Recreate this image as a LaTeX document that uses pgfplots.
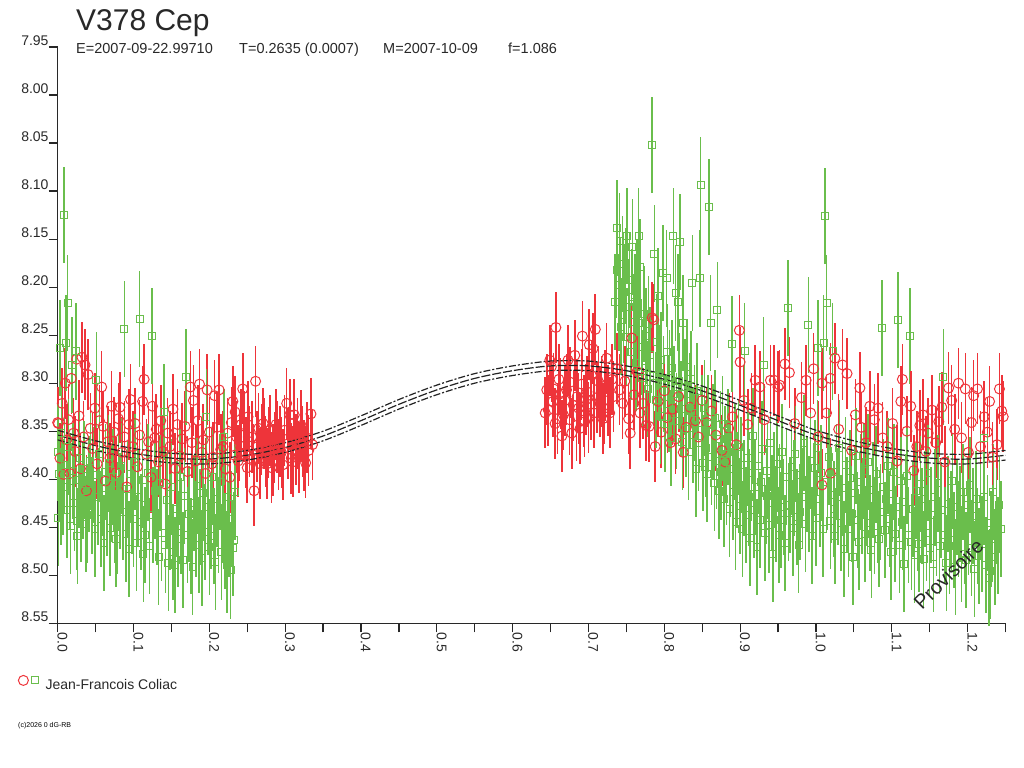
\documentclass[border=0pt]{standalone}
\usepackage{pgfplots}
\pgfplotsset{compat=1.18}
\usepackage{fontspec}
\setmainfont{Liberation Sans}
\definecolor{cred}{RGB}{238,52,58}
\definecolor{cgreen}{RGB}{106,190,76}
\definecolor{ccurve}{RGB}{35,35,35}
\definecolor{caxis}{RGB}{40,40,40}
\begin{document}
\begin{tikzpicture}
\path[use as bounding box] (0,0) rectangle (1024bp,768bp);
\begin{axis}[
  at={(57.7bp,144.7bp)}, anchor=south west,
  scale only axis, width=947.8bp, height=576.3bp,
  xmin=0, xmax=1.25, ymin=7.95, ymax=8.55, y dir=reverse,
  axis x line*=bottom, axis y line*=left,
  axis line style={line width=1.2bp, caxis, -},
  clip=false,
  /pgf/number format/assume math mode=true,
  xtick={0,0.1,0.2,0.3,0.4,0.5,0.6,0.7,0.8,0.9,1.0,1.1,1.2},
  minor xtick={0.05,0.15,0.25,0.35,0.45,0.55,0.65,0.75,0.85,0.95,1.05,1.15,1.25},
  ytick={7.95,8,8.05,8.1,8.15,8.2,8.25,8.3,8.35,8.4,8.45,8.5,8.55},
  tick align=outside,
  major tick length=9bp, minor tick length=9bp,
  tick style={caxis, line width=1.2bp},
  xticklabel={\pgfmathprintnumber[fixed,fixed zerofill,precision=1]{\tick}},
  yticklabel={\pgfmathprintnumber[fixed,fixed zerofill,precision=2]{\tick}},
  xticklabel style={rotate=-90, anchor=base west, inner sep=0pt, font=\fontsize{14bp}{14bp}\selectfont, text=caxis},
  yticklabel style={anchor=south east, inner sep=0pt, yshift=1bp, font=\fontsize{14bp}{14bp}\selectfont, text=caxis},
  legend style={at={(axis description cs:-0.0422,-0.1031)}, anchor=west, draw=none, fill=none, inner sep=0pt, column sep=7bp, font=\fontsize{14bp}{14bp}\selectfont, text=caxis, nodes={inner sep=0pt}},
]
% red circles (first layer)
\addplot[forget plot, only marks, mark=o, mark size=5bp, cred, mark options={line width=1bp},
  error bars/.cd, y dir=both, y fixed=0.037, error mark=none, error bar style={line width=1.6bp, cred}]
table {
0.000 8.341
0.001 8.342
0.003 8.378
0.006 8.321
0.008 8.395
0.010 8.300
0.012 8.359
0.014 8.338
0.016 8.394
0.018 8.295
0.021 8.352
0.023 8.371
0.025 8.275
0.028 8.334
0.030 8.389
0.032 8.273
0.034 8.356
0.036 8.281
0.038 8.412
0.040 8.291
0.043 8.347
0.046 8.368
0.049 8.326
0.052 8.384
0.055 8.339
0.058 8.304
0.060 8.345
0.063 8.402
0.066 8.361
0.069 8.378
0.071 8.324
0.074 8.351
0.077 8.393
0.080 8.337
0.082 8.325
0.085 8.372
0.088 8.356
0.091 8.408
0.094 8.343
0.096 8.317
0.099 8.366
0.102 8.342
0.105 8.387
0.108 8.354
0.112 8.319
0.114 8.296
0.117 8.374
0.120 8.361
0.123 8.398
0.125 8.324
0.128 8.357
0.130 8.348
0.133 8.382
0.136 8.339
0.139 8.371
0.142 8.405
0.145 8.352
0.148 8.366
0.152 8.327
0.155 8.389
0.158 8.343
0.161 8.376
0.164 8.358
0.168 8.345
0.171 8.392
0.175 8.304
0.177 8.362
0.179 8.318
0.182 8.381
0.185 8.339
0.187 8.301
0.190 8.372
0.192 8.359
0.195 8.394
0.197 8.307
0.200 8.351
0.203 8.384
0.205 8.377
0.207 8.313
0.210 8.346
0.213 8.307
0.215 8.369
0.218 8.366
0.221 8.389
0.224 8.352
0.227 8.398
0.229 8.341
0.231 8.319
0.233 8.375
0.234 8.330
0.236 8.356
0.238 8.381
0.240 8.365
0.242 8.343
0.244 8.306
0.246 8.345
0.248 8.372
0.250 8.388
0.251 8.335
0.253 8.361
0.256 8.356
0.258 8.379
0.259 8.412
0.261 8.298
0.263 8.366
0.265 8.347
0.267 8.384
0.269 8.359
0.271 8.342
0.272 8.352
0.274 8.371
0.276 8.384
0.278 8.362
0.280 8.349
0.282 8.388
0.284 8.380
0.286 8.367
0.288 8.343
0.289 8.356
0.291 8.374
0.293 8.361
0.295 8.372
0.297 8.385
0.299 8.349
0.302 8.321
0.304 8.363
0.306 8.333
0.308 8.378
0.310 8.382
0.312 8.333
0.314 8.369
0.316 8.352
0.318 8.377
0.321 8.344
0.323 8.361
0.325 8.375
0.327 8.383
0.329 8.357
0.331 8.370
0.334 8.332
0.336 8.364
0.643 8.331
0.645 8.307
0.647 8.328
0.649 8.276
0.651 8.283
0.653 8.319
0.654 8.306
0.656 8.342
0.657 8.242
0.659 8.337
0.661 8.296
0.663 8.311
0.665 8.355
0.667 8.333
0.669 8.318
0.671 8.307
0.673 8.276
0.675 8.338
0.676 8.299
0.678 8.352
0.680 8.323
0.682 8.271
0.684 8.344
0.685 8.314
0.687 8.326
0.689 8.347
0.691 8.301
0.692 8.251
0.694 8.329
0.695 8.340
0.697 8.317
0.698 8.309
0.700 8.336
0.701 8.260
0.703 8.322
0.704 8.292
0.706 8.264
0.707 8.331
0.709 8.244
0.711 8.315
0.713 8.298
0.715 8.319
0.717 8.309
0.719 8.337
0.721 8.326
0.722 8.302
0.724 8.274
0.726 8.318
0.728 8.331
0.731 8.296
0.733 8.314
0.738 8.285
0.741 8.307
0.745 8.321
0.748 8.298
0.753 8.337
0.755 8.352
0.760 8.312
0.764 8.288
0.768 8.331
0.772 8.321
0.776 8.344
0.780 8.345
0.788 8.366
0.792 8.319
0.796 8.351
0.800 8.308
0.804 8.336
0.808 8.362
0.811 8.327
0.815 8.358
0.819 8.314
0.825 8.372
0.829 8.346
0.834 8.325
0.841 8.339
0.845 8.356
0.850 8.318
0.856 8.341
0.862 8.329
0.868 8.354
0.876 8.370
0.880 8.382
0.885 8.347
0.890 8.335
0.895 8.364
0.905 8.318
0.910 8.343
0.915 8.326
0.932 8.338
0.972 8.342
0.993 8.331
1.003 8.356
1.008 8.406
1.014 8.331
1.019 8.394
1.030 8.348
1.047 8.370
1.052 8.333
1.066 8.362
1.077 8.338
1.088 8.357
1.094 8.366
1.107 8.381
1.120 8.350
1.129 8.391
1.133 8.366
1.137 8.344
1.145 8.371
1.148 8.352
1.158 8.362
1.162 8.340
1.170 8.382
1.183 8.348
1.192 8.357
1.201 8.372
1.205 8.341
1.217 8.366
1.226 8.351
1.233 8.377
1.239 8.364
};
% green squares
\addplot[forget plot, only marks, mark=square, mark size=3.5bp, cgreen, mark options={line width=1bp},
  error bars/.cd, y dir=both, y fixed=0.05, error mark=none, error bar style={line width=1.6bp, cgreen}]
table {
0.000 8.372
0.001 8.440
0.002 8.395
0.003 8.263
0.004 8.418
0.005 8.352
0.007 8.408
0.008 8.125
0.009 8.385
0.011 8.258
0.012 8.432
0.013 8.217
0.014 8.366
0.016 8.402
0.017 8.449
0.019 8.281
0.020 8.391
0.022 8.425
0.024 8.267
0.025 8.444
0.026 8.459
0.028 8.401
0.029 8.378
0.031 8.436
0.033 8.412
0.035 8.389
0.037 8.447
0.039 8.437
0.041 8.405
0.043 8.381
0.045 8.428
0.047 8.396
0.049 8.452
0.051 8.297
0.053 8.418
0.055 8.374
0.057 8.441
0.059 8.409
0.061 8.466
0.063 8.392
0.065 8.430
0.067 8.383
0.069 8.451
0.071 8.415
0.073 8.398
0.075 8.437
0.077 8.462
0.078 8.449
0.080 8.404
0.082 8.423
0.084 8.386
0.086 8.434
0.088 8.244
0.090 8.457
0.092 8.410
0.094 8.473
0.096 8.395
0.098 8.428
0.100 8.441
0.102 8.382
0.104 8.466
0.106 8.419
0.108 8.233
0.110 8.445
0.112 8.401
0.113 8.478
0.115 8.458
0.117 8.427
0.119 8.393
0.121 8.470
0.124 8.251
0.126 8.437
0.128 8.412
0.131 8.439
0.133 8.481
0.135 8.404
0.137 8.456
0.140 8.330
0.142 8.468
0.144 8.422
0.146 8.487
0.148 8.445
0.150 8.408
0.152 8.476
0.155 8.489
0.157 8.431
0.159 8.462
0.161 8.398
0.163 8.449
0.165 8.484
0.167 8.417
0.169 8.294
0.171 8.458
0.173 8.436
0.176 8.470
0.178 8.491
0.180 8.425
0.182 8.452
0.184 8.407
0.186 8.468
0.188 8.439
0.190 8.482
0.192 8.414
0.194 8.455
0.196 8.335
0.198 8.429
0.200 8.471
0.202 8.443
0.204 8.398
0.206 8.459
0.208 8.486
0.210 8.421
0.212 8.448
0.214 8.403
0.216 8.476
0.218 8.437
0.219 8.356
0.221 8.464
0.223 8.489
0.224 8.418
0.226 8.452
0.228 8.495
0.229 8.441
0.231 8.472
0.232 8.463
0.234 8.413
0.735 8.215
0.737 8.182
0.738 8.138
0.740 8.216
0.741 8.152
0.742 8.198
0.743 8.241
0.745 8.176
0.746 8.229
0.747 8.205
0.749 8.188
0.750 8.252
0.751 8.147
0.753 8.221
0.754 8.193
0.756 8.268
0.757 8.210
0.758 8.158
0.760 8.236
0.761 8.215
0.763 8.279
0.764 8.201
0.766 8.147
0.767 8.237
0.768 8.179
0.770 8.262
0.771 8.295
0.773 8.228
0.775 8.284
0.776 8.251
0.778 8.306
0.779 8.238
0.781 8.271
0.784 8.052
0.786 8.293
0.787 8.165
0.789 8.318
0.790 8.257
0.792 8.209
0.793 8.289
0.795 8.334
0.796 8.276
0.798 8.185
0.799 8.301
0.801 8.342
0.803 8.191
0.804 8.268
0.806 8.322
0.807 8.295
0.809 8.357
0.810 8.284
0.812 8.147
0.813 8.311
0.815 8.206
0.816 8.339
0.818 8.216
0.819 8.298
0.821 8.153
0.822 8.327
0.824 8.361
0.825 8.237
0.827 8.304
0.829 8.348
0.830 8.283
0.832 8.372
0.834 8.319
0.835 8.296
0.837 8.196
0.838 8.354
0.840 8.331
0.842 8.389
0.843 8.308
0.845 8.362
0.847 8.191
0.848 8.094
0.850 8.341
0.851 8.383
0.853 8.326
0.855 8.368
0.856 8.395
0.858 8.342
0.859 8.117
0.861 8.237
0.862 8.377
0.864 8.351
0.866 8.404
0.867 8.336
0.869 8.381
0.870 8.224
0.872 8.412
0.874 8.358
0.875 8.392
0.877 8.343
0.879 8.421
0.880 8.374
0.882 8.398
0.884 8.356
0.886 8.431
0.887 8.389
0.889 8.259
0.891 8.413
0.893 8.372
0.894 8.445
0.896 8.401
0.898 8.366
0.900 8.428
0.901 8.385
0.903 8.452
0.905 8.409
0.906 8.267
0.908 8.437
0.910 8.378
0.912 8.419
0.913 8.461
0.915 8.394
0.917 8.355
0.918 8.432
0.920 8.408
0.922 8.471
0.924 8.386
0.926 8.442
0.928 8.403
0.929 8.369
0.931 8.281
0.933 8.456
0.935 8.417
0.936 8.391
0.938 8.448
0.940 8.362
0.942 8.425
0.943 8.478
0.945 8.401
0.947 8.436
0.949 8.384
0.951 8.458
0.952 8.413
0.954 8.442
0.955 8.372
0.957 8.429
0.959 8.466
0.961 8.398
0.963 8.222
0.964 8.435
0.966 8.427
0.968 8.387
0.970 8.451
0.971 8.409
0.973 8.374
0.975 8.439
0.977 8.468
0.979 8.434
0.980 8.396
0.982 8.418
0.984 8.362
0.986 8.447
0.988 8.405
0.990 8.239
0.991 8.426
0.993 8.381
0.995 8.459
0.997 8.412
0.999 8.388
1.000 8.440
1.002 8.367
1.003 8.263
1.005 8.421
1.007 8.394
1.009 8.452
1.010 8.258
1.012 8.126
1.014 8.217
1.015 8.403
1.017 8.377
1.019 8.443
1.020 8.416
1.022 8.267
1.024 8.431
1.025 8.459
1.027 8.392
1.029 8.418
1.031 8.367
1.033 8.446
1.035 8.409
1.037 8.473
1.039 8.385
1.041 8.427
1.043 8.452
1.045 8.399
1.047 8.436
1.049 8.481
1.051 8.414
1.053 8.376
1.055 8.442
1.057 8.465
1.059 8.403
1.061 8.428
1.063 8.391
1.065 8.457
1.067 8.419
1.069 8.382
1.071 8.446
1.073 8.474
1.075 8.411
1.077 8.449
1.079 8.395
1.081 8.437
1.083 8.462
1.085 8.434
1.087 8.243
1.089 8.408
1.091 8.453
1.093 8.421
1.095 8.386
1.097 8.441
1.099 8.476
1.101 8.415
1.103 8.392
1.104 8.457
1.106 8.429
1.108 8.234
1.110 8.468
1.112 8.402
1.114 8.445
1.116 8.488
1.118 8.424
1.120 8.397
1.122 8.458
1.124 8.251
1.126 8.465
1.128 8.431
1.130 8.479
1.132 8.412
1.134 8.446
1.136 8.467
1.138 8.405
1.140 8.438
1.142 8.483
1.144 8.421
1.146 8.456
1.148 8.394
1.150 8.472
1.152 8.437
1.155 8.488
1.157 8.419
1.159 8.451
1.161 8.404
1.163 8.469
1.165 8.432
1.168 8.294
1.170 8.458
1.172 8.487
1.174 8.426
1.176 8.470
1.178 8.441
1.180 8.402
1.182 8.463
1.184 8.491
1.186 8.429
1.188 8.452
1.190 8.436
1.192 8.478
1.194 8.413
1.196 8.459
1.198 8.484
1.200 8.427
1.201 8.450
1.203 8.406
1.205 8.472
1.207 8.438
1.209 8.493
1.211 8.421
1.213 8.459
1.215 8.480
1.217 8.434
1.219 8.467
1.221 8.357
1.222 8.418
1.224 8.489
1.226 8.446
1.228 8.503
1.230 8.496
1.231 8.462
1.233 8.456
1.234 8.413
1.236 8.481
1.238 8.438
1.240 8.469
1.242 8.427
1.244 8.452
};
% red circles (top layer)
\addplot[forget plot, only marks, mark=o, mark size=5bp, cred, mark options={line width=1bp},
  error bars/.cd, y dir=both, y fixed=0.037, error mark=none, error bar style={line width=1.6bp, cred}]
table {
0.757 8.253
0.784 8.232
0.786 8.234
0.899 8.245
0.900 8.278
0.920 8.297
0.926 8.304
0.940 8.297
0.945 8.297
0.950 8.304
0.952 8.302
0.959 8.280
0.965 8.289
0.981 8.315
0.987 8.297
0.997 8.285
1.008 8.300
1.019 8.295
1.025 8.274
1.035 8.281
1.041 8.290
1.058 8.305
1.060 8.346
1.071 8.324
1.082 8.326
1.101 8.342
1.112 8.319
1.114 8.296
1.125 8.324
1.141 8.333
1.153 8.328
1.166 8.325
1.175 8.305
1.179 8.318
1.188 8.300
1.197 8.306
1.208 8.313
1.213 8.306
1.222 8.335
1.229 8.319
1.242 8.306
1.245 8.329
1.247 8.335
};
% fitted curve and bounds
\addplot[forget plot, smooth, no marks, ccurve, line width=1.2bp, dash pattern=on 9bp off 2bp]
coordinates {(0,8.354)(0.05,8.365)(0.1,8.373)(0.15,8.378)(0.2,8.379)(0.25,8.375)(0.3,8.367)(0.35,8.355)(0.4,8.339)(0.45,8.322)(0.5,8.307)(0.55,8.295)(0.6,8.287)(0.65,8.282)(0.7,8.282)(0.75,8.287)(0.8,8.296)(0.85,8.308)(0.9,8.323)(0.95,8.339)(1,8.354)(1.05,8.365)(1.1,8.373)(1.15,8.378)(1.2,8.379)(1.25,8.375)};
\addplot[forget plot, smooth, no marks, ccurve, line width=1.2bp, dash pattern=on 7bp off 2bp on 2bp off 2bp]
coordinates {(0,8.349)(0.05,8.360)(0.1,8.368)(0.15,8.373)(0.2,8.374)(0.25,8.370)(0.3,8.362)(0.35,8.350)(0.4,8.334)(0.45,8.317)(0.5,8.302)(0.55,8.290)(0.6,8.282)(0.65,8.277)(0.7,8.277)(0.75,8.282)(0.8,8.291)(0.85,8.303)(0.9,8.318)(0.95,8.334)(1,8.349)(1.05,8.360)(1.1,8.368)(1.15,8.373)(1.2,8.374)(1.25,8.370)};
\addplot[forget plot, smooth, no marks, ccurve, line width=1.2bp, dash pattern=on 7bp off 2bp on 2bp off 2bp]
coordinates {(0,8.359)(0.05,8.370)(0.1,8.378)(0.15,8.383)(0.2,8.384)(0.25,8.380)(0.3,8.372)(0.35,8.360)(0.4,8.344)(0.45,8.327)(0.5,8.312)(0.55,8.300)(0.6,8.292)(0.65,8.287)(0.7,8.287)(0.75,8.292)(0.8,8.301)(0.85,8.313)(0.9,8.328)(0.95,8.344)(1,8.359)(1.05,8.370)(1.1,8.378)(1.15,8.383)(1.2,8.384)(1.25,8.380)};
\addlegendimage{legend image code/.code={
  \draw[cred, line width=1bp] (0bp,4.3bp) circle (5bp);
  \draw[cgreen, line width=1bp] (7.7bp,0.8bp) rectangle (14.7bp,7.8bp);}}
\addlegendentry{Jean-Francois Coliac}
\end{axis}
\node[anchor=base west, inner sep=0pt, text=caxis, font=\fontsize{30bp}{30bp}\selectfont] at (76bp,737bp) {V378 Cep};
\begin{scope}[every node/.style={anchor=base west, inner sep=0pt, text=caxis, font=\fontsize{14.5bp}{14.5bp}\selectfont}]
\node at (76bp,714bp) {E=2007-09-22.99710};
\node at (239bp,714bp) {T=0.2635 (0.0007)};
\node at (383bp,714bp) {M=2007-10-09};
\node at (508bp,714bp) {f=1.086};
\end{scope}
\node[anchor=base west, inner sep=0pt, text=black, font=\fontsize{7bp}{7bp}\selectfont] at (18bp,40bp) {(c)2026 0 dG-RB};
\node[anchor=base west, inner sep=0pt, rotate=45, text=caxis, font=\fontsize{20bp}{20bp}\selectfont] at (922bp,157bp) {Provisoire};
\end{tikzpicture}
\end{document}
